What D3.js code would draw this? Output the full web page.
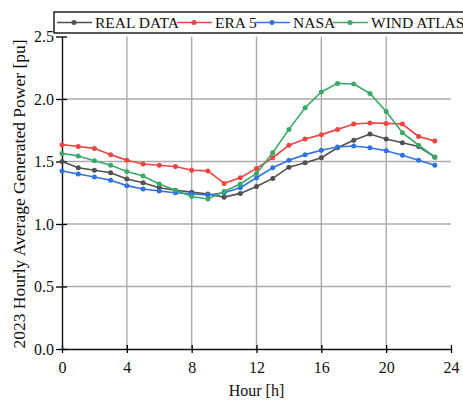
<!DOCTYPE html>
<html>
<head>
<meta charset="utf-8">
<script src="https://cdn.jsdelivr.net/npm/d3@7"></script>
<style>
body { margin: 0; background: #fff; }
text { font-family: "Liberation Serif", "Times New Roman", serif; fill: #111; }
</style>
</head>
<body>
<svg id="chart"></svg>
<script>
var hours = d3.range(0, 24)
var seriesNames = ["REAL DATA", "ERA 5", "NASA", "WIND ATLAS"]
var seriesColors = ["#505050", "#ee4444", "#2f72e4", "#3aa866"]

var realData = [1.50, 1.45, 1.43, 1.41, 1.36, 1.33, 1.29, 1.27, 1.255, 1.24, 1.215, 1.245,
                1.30, 1.365, 1.455, 1.49, 1.53, 1.61, 1.67, 1.72, 1.68, 1.65, 1.62, 1.535]
var era5 = [1.635, 1.62, 1.605, 1.555, 1.51, 1.48, 1.47, 1.46, 1.43, 1.425, 1.325, 1.37,
            1.445, 1.53, 1.63, 1.68, 1.715, 1.757, 1.80, 1.808, 1.805, 1.80, 1.70, 1.665]
var nasa = [1.424, 1.40, 1.376, 1.35, 1.307, 1.28, 1.264, 1.25, 1.24, 1.232, 1.25, 1.29,
            1.37, 1.45, 1.51, 1.555, 1.59, 1.616, 1.624, 1.61, 1.586, 1.55, 1.51, 1.47]
var windAtlas = [1.565, 1.544, 1.506, 1.47, 1.42, 1.384, 1.32, 1.27, 1.22, 1.20, 1.26, 1.32,
                 1.405, 1.57, 1.757, 1.93, 2.056, 2.125, 2.12, 2.045, 1.90, 1.73, 1.63, 1.536]

var xTicks = [0, 4, 8, 12, 16, 20, 24]
var yTicks = [0, 0.5, 1.0, 1.5, 2.0, 2.5]

var allSeries = [realData, era5, nasa, windAtlas]

var screen = {width: 463, height: 402}
var margins = {left: 62, right: 12, top: 36.5, bottom: 53}
var graph = {
    width: screen.width - margins.left - margins.right,
    height: screen.height - margins.top - margins.bottom
}

var svg = d3.select("#chart")
    .attr("width", screen.width)
    .attr("height", screen.height)

var xScale = d3.scaleLinear()
    .domain([0, 24])
    .range([margins.left, margins.left + 389])

var yScale = d3.scaleLinear()
    .domain([0, 2.5])
    .range([margins.top + graph.height, margins.top])

// grid
var grid = svg.append("g")
grid.selectAll(".vgrid")
    .data(xTicks.filter(function(t) { return t > 0 && t < 24 }))
    .enter()
    .append("line")
    .attr("x1", function(t) { return xScale(t) })
    .attr("x2", function(t) { return xScale(t) })
    .attr("y1", yScale(2.5))
    .attr("y2", yScale(0))
    .attr("stroke", "#aaaaaa")
    .attr("stroke-width", 1.4)
grid.selectAll(".hgrid")
    .data(yTicks.filter(function(t) { return t > 0 && t < 2.5 }))
    .enter()
    .append("line")
    .attr("x1", xScale(0))
    .attr("x2", xScale(24))
    .attr("y1", function(t) { return yScale(t) })
    .attr("y2", function(t) { return yScale(t) })
    .attr("stroke", "#aaaaaa")
    .attr("stroke-width", 1.4)

// axes
var xAxis = d3.axisBottom(xScale).tickValues(xTicks).tickSizeInner(6).tickSizeOuter(0).tickPadding(3)
var yAxis = d3.axisLeft(yScale).tickValues(yTicks).tickSizeInner(6).tickSizeOuter(0).tickPadding(3)
    .tickFormat(d3.format(".1f"))

var gx = svg.append("g")
    .attr("transform", "translate(0," + yScale(0) + ")")
    .call(xAxis)
gx.selectAll(".tick line").attr("y1", -4).attr("y2", 4).attr("stroke-width", 1.3)
gx.selectAll(".tick text").attr("dy", "0.71em").attr("y", 13)

var gy = svg.append("g")
    .attr("transform", "translate(" + xScale(0) + ",0)")
    .call(yAxis)
gy.selectAll(".tick line").attr("x1", -6).attr("x2", 5).attr("stroke-width", 1.3)
gy.selectAll(".tick text").attr("x", -8)

svg.selectAll(".domain").attr("stroke", "#111").attr("stroke-width", 1.4)
svg.selectAll(".tick text")
    .style("font-family", "Liberation Serif")
    .style("font-size", "16px")
    .attr("fill", "#111")

// lines and markers
var line = d3.line()
    .x(function(d, i) { return xScale(hours[i]) })
    .y(function(d) { return yScale(d) })

allSeries.forEach(function(values, s) {
    svg.append("path")
        .datum(values)
        .attr("d", line)
        .attr("fill", "none")
        .attr("stroke", seriesColors[s])
        .attr("stroke-width", 1.6)
    svg.append("g")
        .selectAll("circle")
        .data(values)
        .enter()
        .append("circle")
        .attr("cx", function(d, i) { return xScale(hours[i]) })
        .attr("cy", function(d) { return yScale(d) })
        .attr("r", 2.5)
        .attr("fill", seriesColors[s])
})

// legend
var legend = svg.append("g")
legend.append("rect")
    .attr("x", 54)
    .attr("y", 12)
    .attr("width", 420)
    .attr("height", 21)
    .attr("fill", "#fff")
    .attr("stroke", "#111")
    .attr("stroke-width", 1.4)

var legendStarts = [57, 177, 255, 333]
seriesNames.forEach(function(name, s) {
    var x0 = legendStarts[s]
    legend.append("line")
        .attr("x1", x0).attr("x2", x0 + 35)
        .attr("y1", 22.5).attr("y2", 22.5)
        .attr("stroke", seriesColors[s])
        .attr("stroke-width", 1.6)
    legend.append("circle")
        .attr("cx", x0 + 17).attr("cy", 22.5).attr("r", 2.5)
        .attr("fill", seriesColors[s])
    legend.append("text")
        .text(name)
        .attr("x", x0 + 38)
        .attr("y", 28)
        .style("font-size", "15.5px")
})

// axis labels
svg.append("text")
    .text("Hour [h]")
    .attr("text-anchor", "middle")
    .attr("x", xScale(12))
    .attr("y", 396)
    .style("font-size", "16px")

svg.append("g")
    .attr("transform", "translate(25," + 194 + ")")
    .append("text")
    .text("2023 Hourly Average Generated Power [pu]")
    .attr("text-anchor", "middle")
    .attr("transform", "rotate(270)")
    .style("font-size", "17.5px")
</script>
</body>
</html>
